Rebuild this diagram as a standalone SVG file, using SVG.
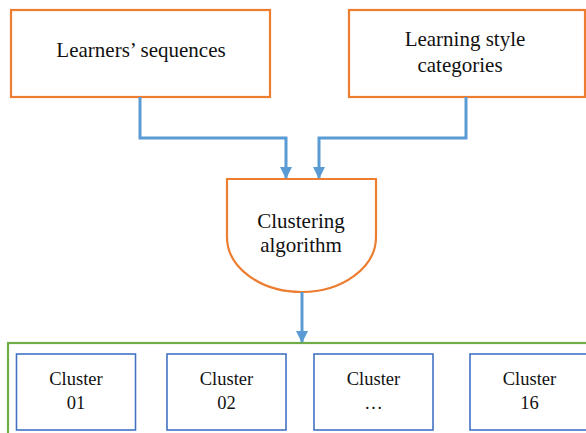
<svg xmlns="http://www.w3.org/2000/svg" width="586" height="433" viewBox="0 0 586 433">
<style>
.t{font-family:'Liberation Serif','DejaVu Serif',serif;fill:#111;text-anchor:middle}
.big{font-size:21px}
.sm{font-size:18.5px}
.or{fill:#fff;stroke:#ED7D31;stroke-width:2.2}
.cl{fill:#fff;stroke:#4472C4;stroke-width:1.6}
.con{fill:none;stroke:#5B9BD5;stroke-width:3}
</style>
<defs>
<marker id="ah" viewBox="0 0 12 12" refX="11" refY="6" markerWidth="12" markerHeight="12" markerUnits="userSpaceOnUse" orient="auto">
<path d="M0,0 L12,6 L0,12 Z" fill="#5B9BD5"/>
</marker>
</defs>
<rect width="586" height="433" fill="#fff"/>
<g id="output-frame">
<rect x="8" y="343" width="600" height="100" fill="none" stroke="#70AD47" stroke-width="2.2"/>
</g>
<g id="learners-sequences">
<rect class="or" x="11" y="10" width="259" height="87"/>
<text class="t big" x="141" y="57" font-family="Liberation Serif, serif">Learners’ sequences</text>
</g>
<g id="learning-style">
<rect class="or" x="349" y="10" width="236" height="87"/>
<text class="t big" x="465" y="46" font-family="Liberation Serif, serif">Learning style</text>
<text class="t big" x="460" y="72" font-family="Liberation Serif, serif">categories</text>
</g>
<g id="clustering">
<path class="or" d="M227,179 L376,179 L376,237 A74.5,55 0 0 1 227,237 Z"/>
<text class="t big" x="301" y="228" font-family="Liberation Serif, serif">Clustering</text>
<text class="t big" x="301" y="252" font-family="Liberation Serif, serif">algorithm</text>
</g>
<g id="cluster-01">
<rect class="cl" x="16.5" y="354" width="119" height="76"/>
<text class="t sm" x="76" y="385" font-family="Liberation Serif, serif">Cluster</text>
<text class="t sm" x="76" y="409" font-family="Liberation Serif, serif">01</text>
</g>
<g id="cluster-02">
<rect class="cl" x="167" y="354" width="119" height="76"/>
<text class="t sm" x="226.5" y="385" font-family="Liberation Serif, serif">Cluster</text>
<text class="t sm" x="226.5" y="409" font-family="Liberation Serif, serif">02</text>
</g>
<g id="cluster-dots">
<rect class="cl" x="314" y="354" width="119" height="76"/>
<text class="t sm" x="373.5" y="385" font-family="Liberation Serif, serif">Cluster</text>
<text class="t sm" x="373.5" y="409" font-family="Liberation Serif, serif">…</text>
</g>
<g id="cluster-16">
<rect class="cl" x="470" y="354" width="119" height="76"/>
<text class="t sm" x="529.5" y="385" font-family="Liberation Serif, serif">Cluster</text>
<text class="t sm" x="529.5" y="409" font-family="Liberation Serif, serif">16</text>
</g>
<g id="connectors">
<path class="con" d="M140,97 V138 H286 V178" marker-end="url(#ah)"/>
<path class="con" d="M466,97 V138 H319 V178" marker-end="url(#ah)"/>
<path class="con" d="M302,292 V342" marker-end="url(#ah)"/>
</g>
</svg>
